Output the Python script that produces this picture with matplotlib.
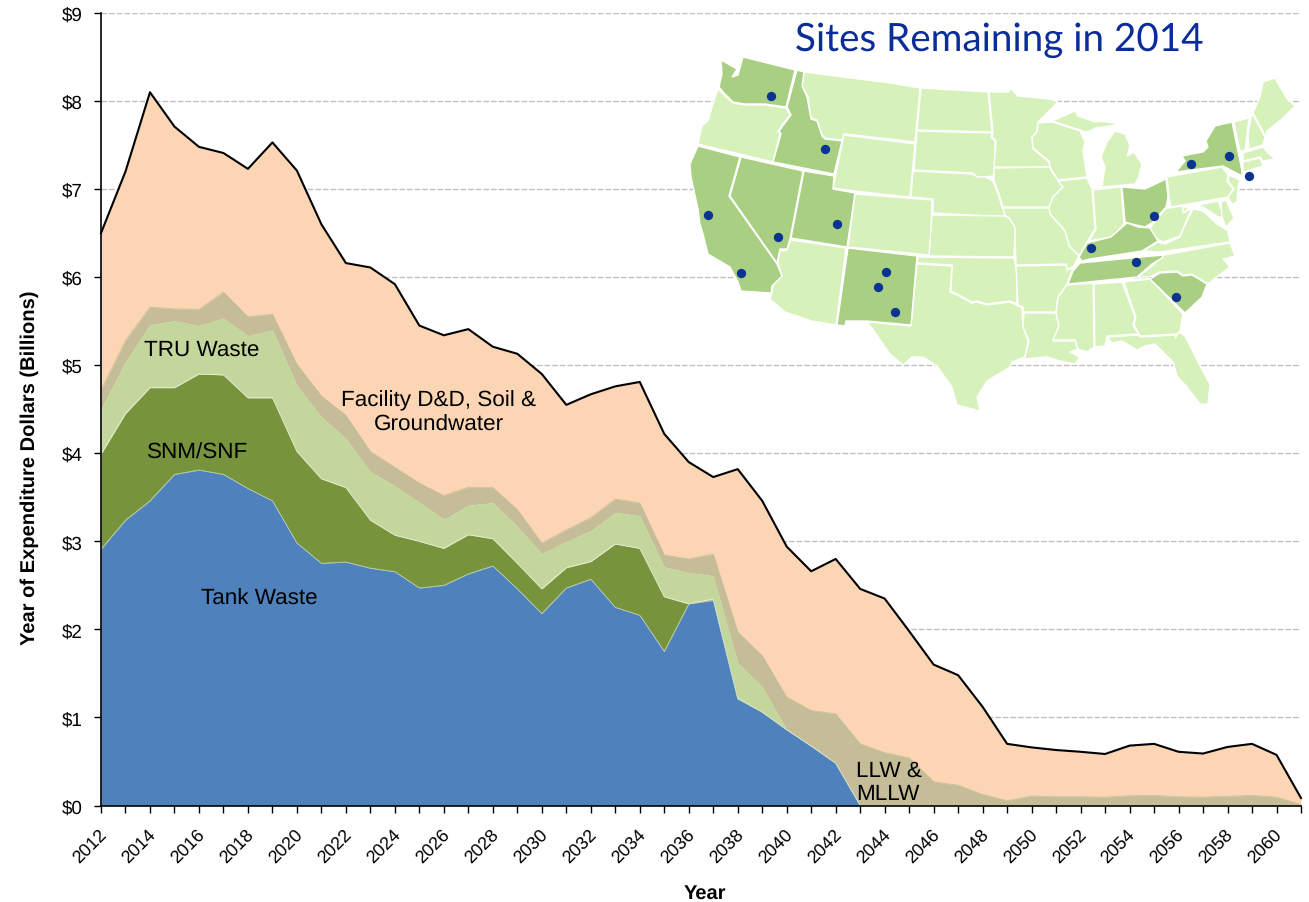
import numpy as np
import matplotlib
matplotlib.use("Agg")
import matplotlib.pyplot as plt
from matplotlib.patches import Polygon
from matplotlib.transforms import ScaledTranslation

years = list(range(2012, 2062))
tick_labels = [str(y) if y % 2 == 0 else "" for y in years]

# stack boundaries, top edge of each band in billions
tank_top = [2.91, 3.24, 3.46, 3.76, 3.81, 3.76, 3.60, 3.46, 2.98, 2.75, 2.765, 2.695, 2.655, 2.47, 2.50, 2.63, 2.72,
            2.46, 2.18, 2.47, 2.57, 2.25, 2.16, 1.75, 2.29, 2.33, 1.21, 1.06, 0.86, 0.675, 0.48, 0, 0, 0, 0, 0, 0,
            0, 0, 0, 0, 0, 0, 0, 0, 0, 0, 0, 0, 0]
snm_top = [3.99, 4.45, 4.745, 4.745, 4.90, 4.89, 4.63, 4.63, 4.02, 3.71, 3.61, 3.24, 3.07, 3.00, 2.92, 3.075, 3.03,
           2.75, 2.46, 2.70, 2.77, 2.97, 2.92, 2.37, 2.29, 2.345, 1.22, 1.06, 0.86, 0.675, 0.48, 0, 0, 0, 0, 0, 0,
           0, 0, 0, 0, 0, 0, 0, 0, 0, 0, 0, 0, 0]
tru_top = [4.50, 5.04, 5.46, 5.505, 5.45, 5.535, 5.335, 5.40, 4.77, 4.415, 4.17, 3.79, 3.63, 3.445, 3.25, 3.41, 3.44,
           3.17, 2.86, 3.00, 3.12, 3.33, 3.29, 2.71, 2.645, 2.61, 1.62, 1.35, 0.86, 0.675, 0.48, 0, 0, 0, 0, 0, 0,
           0, 0, 0, 0, 0, 0, 0, 0, 0, 0, 0, 0, 0]
llw_top = [4.72, 5.28, 5.66, 5.64, 5.635, 5.83, 5.55, 5.58, 5.01, 4.65, 4.43, 4.02, 3.84, 3.66, 3.52, 3.615, 3.61,
           3.36, 2.98, 3.13, 3.27, 3.48, 3.435, 2.845, 2.80, 2.855, 1.97, 1.70, 1.23, 1.08, 1.04, 0.70, 0.60, 0.54,
           0.27, 0.23, 0.125, 0.055, 0.108, 0.10, 0.10, 0.095, 0.11, 0.115, 0.10, 0.095, 0.105, 0.115, 0.095, 0.012]
total = [6.50, 7.20, 8.10, 7.71, 7.48, 7.41, 7.23, 7.53, 7.21, 6.60, 6.16, 6.11, 5.92, 5.45, 5.34, 5.41, 5.21,
         5.13, 4.90, 4.55, 4.67, 4.76, 4.81, 4.22, 3.90, 3.73, 3.82, 3.46, 2.94, 2.66, 2.80, 2.46, 2.35, 1.98,
         1.60, 1.48, 1.12, 0.70, 0.66, 0.63, 0.61, 0.585, 0.68, 0.70, 0.61, 0.59, 0.665, 0.70, 0.575, 0.085]

# map outlines in its own pixel grid
site_states = {
    "WA": [(721, 61), (737, 70), (732, 78), (738, 76), (743, 58), (795, 71), (786, 108), (765, 105), (745, 105),
           (733, 103), (725, 95), (719, 88), (722, 75)],
    "ID": [(797, 71), (804, 73), (802, 87), (807, 98), (811, 120), (817, 122), (822, 137), (825, 140), (842, 142),
           (834, 175), (773, 163), (781, 135), (779, 132), (791, 116), (787, 108)],
    "NV": [(741, 158), (803, 172), (790, 240), (787, 250), (780, 250), (777, 264), (730, 197)],
    "UT": [(804, 172), (834, 177), (833, 190), (855, 194), (847, 248), (791, 239)],
    "CA": [(698, 147), (740, 158), (729, 197), (777, 265), (782, 277), (772, 287), (771, 294), (741, 292), (738, 283),
           (730, 268), (708, 255), (703, 235), (700, 225), (698, 210), (691, 178), (690, 165)],
    "NM": [(848, 249), (917, 257), (911, 326), (867, 322), (846, 322), (845, 327), (837, 326)],
    "OH": [(1122, 188), (1145, 190), (1166, 180), (1168, 198), (1166, 208), (1153, 223), (1145, 228), (1132, 225),
           (1125, 223)],
    "KY": [(1079, 258), (1087, 244), (1111, 238), (1127, 224), (1138, 228), (1150, 229), (1158, 242), (1142, 252),
           (1090, 260), (1082, 262)],
    "TN": [(1080, 264), (1163, 256), (1162, 259), (1152, 265), (1137, 278), (1068, 285), (1073, 272)],
    "SC": [(1150, 280), (1160, 274), (1177, 273), (1183, 277), (1192, 276), (1207, 285), (1202, 298), (1185, 314)],
    "NY": [(1176, 173), (1185, 162), (1182, 157), (1203, 153), (1208, 148), (1206, 142), (1215, 127), (1232, 123),
           (1242, 172), (1242, 177), (1223, 167)],
}
other_states = {
    "OR": [(718, 90), (725, 97), (733, 104), (745, 106), (765, 106), (786, 109), (790, 116), (783, 125), (778, 132),
           (780, 135), (773, 163), (698, 145), (702, 127), (708, 122), (713, 105)],
    "MT": [(804, 73), (890, 84), (920, 89), (915, 143), (890, 140), (844, 135), (842, 141), (825, 139), (822, 136),
           (817, 121), (811, 119), (808, 98), (802, 87)],
    "WY": [(844, 136), (915, 145), (910, 198), (890, 196), (855, 192), (833, 189)],
    "AZ": [(791, 241), (846, 249), (836, 326), (812, 322), (785, 313), (770, 300), (772, 294), (773, 285), (782, 277),
           (778, 263), (780, 252), (787, 251)],
    "CO": [(855, 195), (932, 201), (931, 235), (929, 256), (848, 248)],
    "ND": [(921, 89), (988, 93), (992, 133), (917, 131)],
    "SD": [(917, 132), (992, 134), (991, 138), (995, 142), (995, 168), (993, 177), (985, 178), (977, 178), (973, 174),
           (914, 171)],
    "NE": [(913, 172), (973, 175), (977, 178), (985, 178), (993, 182), (998, 195), (1002, 208), (1009, 218), (933, 214),
           (933, 200), (911, 198)],
    "KS": [(932, 216), (1005, 217), (1010, 220), (1015, 228), (1015, 235), (1014, 258), (929, 257)],
    "MN": [(989, 93), (1009, 93), (1010, 89), (1018, 97), (1050, 100), (1058, 103), (1038, 123), (1037, 133), (1032, 138),
           (1033, 150), (1049, 163), (1050, 168), (994, 168), (996, 142), (992, 138), (993, 133)],
    "IA": [(994, 169), (1050, 168), (1052, 173), (1063, 188), (1053, 198), (1049, 208), (1003, 208), (999, 195),
           (994, 182)],
    "WI": [(1038, 124), (1052, 123), (1080, 132), (1085, 143), (1083, 152), (1087, 178), (1058, 181), (1051, 170),
           (1049, 162), (1033, 149), (1032, 138), (1037, 133)],
    "UP": [(1052, 122), (1075, 112), (1078, 117), (1095, 123), (1100, 122), (1120, 125), (1110, 127), (1095, 129),
           (1090, 132), (1085, 133), (1080, 131)],
    "MI": [(1115, 132), (1125, 135), (1130, 147), (1127, 157), (1134, 153), (1142, 165), (1138, 180), (1135, 185),
           (1102, 188), (1105, 168), (1101, 158), (1107, 143)],
    "IL": [(1058, 182), (1087, 179), (1092, 190), (1095, 230), (1087, 243), (1079, 257), (1069, 247), (1065, 232),
           (1050, 215), (1049, 209), (1053, 198), (1063, 188)],
    "IN": [(1093, 191), (1121, 188), (1124, 225), (1117, 233), (1111, 238), (1089, 242), (1096, 230)],
    "MO": [(1003, 209), (1049, 209), (1050, 215), (1065, 232), (1069, 247), (1079, 257), (1073, 268), (1067, 270),
           (1066, 265), (1016, 266), (1015, 235), (1015, 228), (1010, 220), (1005, 216)],
    "OK": [(918, 258), (1014, 259), (1017, 273), (1017, 305), (1010, 302), (987, 305), (977, 302), (972, 303), (957, 295),
           (951, 292), (952, 266), (917, 264)],
    "TX": [(917, 265), (952, 267), (950, 293), (957, 296), (972, 304), (977, 303), (987, 306), (1010, 303), (1022, 309),
           (1023, 328), (1028, 342), (1025, 358), (1012, 363), (1010, 368), (987, 382), (977, 398), (980, 412), (957, 406),
           (952, 388), (937, 367), (923, 358), (912, 358), (903, 366), (890, 355), (872, 329), (867, 323), (911, 327)],
    "AR": [(1016, 267), (1066, 266), (1067, 271), (1073, 269), (1067, 285), (1058, 298), (1056, 313), (1023, 313),
           (1023, 308), (1018, 306)],
    "LA": [(1024, 314), (1056, 314), (1059, 327), (1053, 342), (1075, 342), (1078, 350), (1070, 353), (1080, 358),
           (1075, 365), (1060, 362), (1047, 358), (1033, 359), (1017, 361), (1025, 358), (1029, 342), (1023, 328)],
    "MS": [(1067, 286), (1093, 284), (1094, 348), (1087, 353), (1078, 350), (1075, 341), (1053, 341), (1059, 327),
           (1056, 314), (1058, 298)],
    "AL": [(1094, 285), (1122, 283), (1135, 318), (1133, 327), (1139, 335), (1107, 337), (1105, 347), (1095, 348)],
    "GA": [(1124, 283), (1150, 280), (1183, 315), (1180, 332), (1177, 335), (1140, 337), (1134, 325), (1136, 318)],
    "FL": [(1107, 338), (1139, 336), (1140, 338), (1177, 336), (1175, 339), (1179, 333), (1185, 337), (1200, 367),
           (1210, 385), (1208, 405), (1200, 405), (1187, 388), (1177, 377), (1173, 363), (1155, 345), (1145, 347),
           (1137, 351), (1122, 342), (1112, 344)],
    "NC": [(1138, 278), (1152, 267), (1164, 256), (1230, 244), (1235, 257), (1223, 260), (1230, 268), (1218, 277),
           (1208, 285), (1192, 275), (1183, 276), (1177, 272), (1160, 273), (1149, 278)],
    "VA": [(1143, 252), (1158, 243), (1165, 245), (1180, 238), (1183, 230), (1193, 210), (1203, 212), (1217, 225),
           (1228, 232), (1230, 243), (1160, 253)],
    "WV": [(1150, 229), (1166, 209), (1170, 209), (1183, 207), (1184, 214), (1192, 208), (1182, 232), (1180, 237),
           (1163, 243), (1154, 238)],
    "PA": [(1167, 178), (1222, 168), (1228, 176), (1227, 182), (1233, 190), (1228, 198), (1171, 208), (1169, 198)],
    "MD": [(1183, 209), (1218, 202), (1222, 212), (1230, 218), (1218, 218), (1203, 208), (1197, 206), (1190, 208),
           (1183, 214)],
    "DE": [(1221, 203), (1226, 201), (1234, 219), (1226, 228), (1222, 218)],
    "NJ": [(1229, 176), (1240, 181), (1238, 188), (1237, 203), (1232, 205), (1228, 198), (1234, 190), (1228, 182)],
    "VT": [(1234, 123), (1249, 119), (1247, 135), (1245, 152), (1240, 152)],
    "NH": [(1252, 114), (1265, 138), (1263, 146), (1249, 150), (1248, 135)],
    "ME": [(1253, 114), (1260, 98), (1263, 83), (1275, 79), (1287, 100), (1295, 107), (1282, 120), (1267, 132),
           (1266, 138)],
    "MA": [(1243, 154), (1263, 148), (1267, 153), (1275, 160), (1263, 162), (1260, 158), (1243, 162)],
    "CT": [(1243, 163), (1260, 159), (1263, 167), (1243, 173)],
}
site_x = [771, 825, 708, 778, 741, 837, 886, 878, 895, 1191, 1229, 1249, 1154, 1091, 1136, 1176]
site_y = [97, 150, 216, 238, 274, 225, 273, 288, 313, 165, 157, 177, 217, 249, 263, 298]

plt.rcParams["font.family"] = ["Liberation Sans", "DejaVu Sans"]
plt.rcParams["text.hinting"] = "none"

W, H = 1309, 903
fig = plt.figure(figsize=(W / 100, H / 100), dpi=100)
ax = fig.add_axes([101 / W, 1 - 806.5 / H, 1200 / W, 792.5 / H])

ax.set_axisbelow(True)
ax.yaxis.grid(True, color="#bfbfbf", ls=(0, (4, 1.5)), lw=1)

x = np.array(years)
ax.fill_between(x, tru_top, total, color="#FCD5B5", lw=0)
ax.fill_between(x, tru_top, llw_top, color="#C4BD97", lw=0)
ax.fill_between(x, snm_top, tru_top, color="#C3D69B", lw=0)
ax.fill_between(x, tank_top, snm_top, color="#77933C", lw=0)
ax.fill_between(x, 0, tank_top, color="#4F81BD", lw=0)
ax.plot(x, llw_top, color="#C4BD97", lw=0.5)
ax.plot(x, snm_top, color="#e8efd8", lw=0.6)
ax.plot(x, tank_top, color="#c9d9c0", lw=0.5)
ax.plot(x, total, color="black", lw=1.5, clip_on=False)

ax.set_xlim(2012, 2061)
ax.set_ylim(0, 9)
ax.set_xticks(years)
ax.set_xticklabels(tick_labels, rotation=45, ha="right", rotation_mode="anchor", fontsize=13)
ax.set_yticks(range(10))
ax.set_yticklabels(["$%d" % v for v in range(10)], fontsize=13.5)
ax.tick_params(axis="both", length=5, width=1, color="black")
ax.tick_params(axis="x", pad=9)
ax.tick_params(axis="y", pad=8)
shift = ScaledTranslation(-3 / 100, 0, fig.dpi_scale_trans)
for label in ax.get_xticklabels():
    label.set_transform(label.get_transform() + shift)
for side in ["top", "right"]:
    ax.spines[side].set_visible(False)
ax.spines["left"].set_linewidth(1.2)
ax.spines["bottom"].set_linewidth(1.2)
ax.set_xlabel("Year", fontweight="bold", fontsize=14.5, va="center")
ax.set_ylabel("Year of Expenditure Dollars (Billions)", fontweight="bold", fontsize=14.5, va="center")
ax.xaxis.set_label_coords(0.503, -0.110)
ax.yaxis.set_label_coords(-0.0595, 0.428)

ax.text(2016.1, 5.18, "TRU Waste", fontsize=16.2, ha="center", va="center")
ax.text(2015.96, 4.01, "SNM/SNF", fontsize=16.2, ha="center", va="center")
ax.text(2018.45, 2.36, "Tank Waste", fontsize=16.2, ha="center", va="center")
ax.text(2025.8, 4.47, "Facility D&D, Soil &\nGroundwater", fontsize=16.2, ha="center", va="center")
ax.text(2042.84, 0.27, "LLW &\nMLLW", fontsize=16.2, ha="left", va="center")

# inset map on top of the chart
mp = fig.add_axes([680 / W, 1 - 420 / H, 620 / W, 410 / H], facecolor="none")
mp.set_xlim(680, 1300)
mp.set_ylim(420, 10)
mp.axis("off")
for pts in other_states.values():
    mp.add_patch(Polygon(pts, closed=True, fc="#D7F1BA", ec="white", lw=1))
for pts in site_states.values():
    mp.add_patch(Polygon(pts, closed=True, fc="#A9CF82", ec="white", lw=1))
mp.scatter(site_x, site_y, s=45, color="#0B3391", lw=0, zorder=5)
mp.text(999, 40, "Sites Remaining in 2014", color="#0B2D9A", family="Lato", fontsize=27.8, ha="center", va="center")

fig.savefig("out.png", dpi=100)
